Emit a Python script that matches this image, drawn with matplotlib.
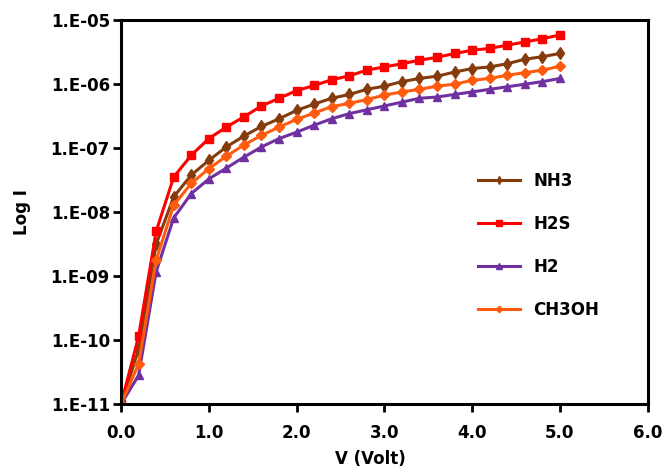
import numpy as np
import matplotlib.pyplot as plt

volts = [0.0, 0.2, 0.4, 0.6, 0.8, 1.0, 1.2, 1.4, 1.6, 1.8, 2.0, 2.2, 2.4,
         2.6, 2.8, 3.0, 3.2, 3.4, 3.6, 3.8, 4.0, 4.2, 4.4, 4.6, 4.8, 5.0]

# log10 of current
log_nh3 = [-11.0, -10.15, -8.5, -7.76, -7.42, -7.19, -6.98, -6.81, -6.66, -6.54,
           -6.41, -6.31, -6.22, -6.16, -6.08, -6.03, -5.96, -5.91, -5.875, -5.81,
           -5.755, -5.73, -5.68, -5.61, -5.57, -5.52]
log_h2s = [-11.0, -9.94, -8.30, -7.45, -7.11, -6.85, -6.67, -6.51, -6.34, -6.22,
           -6.10, -6.02, -5.93, -5.87, -5.78, -5.73, -5.68, -5.625, -5.58, -5.52,
           -5.47, -5.44, -5.39, -5.34, -5.29, -5.23]
log_h2 = [-11.0, -10.55, -8.93, -8.09, -7.71, -7.48, -7.31, -7.14, -6.98, -6.85,
          -6.75, -6.64, -6.54, -6.46, -6.40, -6.34, -6.28, -6.22, -6.20, -6.16,
          -6.12, -6.08, -6.04, -6.00, -5.96, -5.91]
log_ch3oh = [-11.0, -10.37, -8.75, -7.89, -7.55, -7.32, -7.125, -6.95, -6.80, -6.67,
             -6.55, -6.45, -6.35, -6.30, -6.24, -6.17, -6.12, -6.08, -6.03, -6.00,
             -5.94, -5.91, -5.86, -5.82, -5.78, -5.72]

names = ['NH3', 'H2S', 'H2', 'CH3OH']
colors = ['#843C0C', '#FF0000', '#7030A0', '#FF5B0F']
markers = ['d', 's', '^', 'D']

fig = plt.figure(figsize=(6.65, 4.7), dpi=100)
ax = fig.add_axes([0.182, 0.140, 0.792, 0.817])

for logs, name, c, m in zip([log_nh3, log_h2s, log_h2, log_ch3oh], names, colors, markers):
    ax.plot(volts, 10.0 ** np.array(logs), color=c, marker=m, ms=6 if m != 'D' else 5,
            lw=2.2, label=name)

ax.set_yscale('log')
ax.set_xlim(0, 6)
ax.set_ylim(1e-11, 1e-5)
ax.set_xticks(np.arange(0, 6.1, 1.0))
ax.set_xticklabels(['%.1f' % v for v in np.arange(0, 6.1, 1.0)])
yt = [10.0 ** k for k in range(-11, -4)]
ax.set_yticks(yt)
ax.set_yticklabels(['1.E-%02d' % -k for k in range(-11, -4)])
ax.minorticks_off()
ax.tick_params(direction='out', length=6, width=2, labelsize=12)
ax.tick_params(axis='x', pad=8)
ax.tick_params(axis='y', pad=2)
for lab in ax.get_xticklabels() + ax.get_yticklabels():
    lab.set_fontweight('bold')
for s in ax.spines.values():
    s.set_linewidth(2.2)

ax.set_xlabel('V (Volt)', fontsize=12, fontweight='bold')
ax.xaxis.set_label_coords(0.473, -0.118)
ax.set_ylabel('Log I', fontsize=12, fontweight='bold', labelpad=14)

leg = ax.legend(loc='upper left', bbox_to_anchor=(0.65, 0.645), frameon=False,
                prop={'weight': 'bold', 'size': 12}, labelspacing=1.5,
                handlelength=2.5, markerscale=0.65)

fig.savefig('out.png', dpi=100)
